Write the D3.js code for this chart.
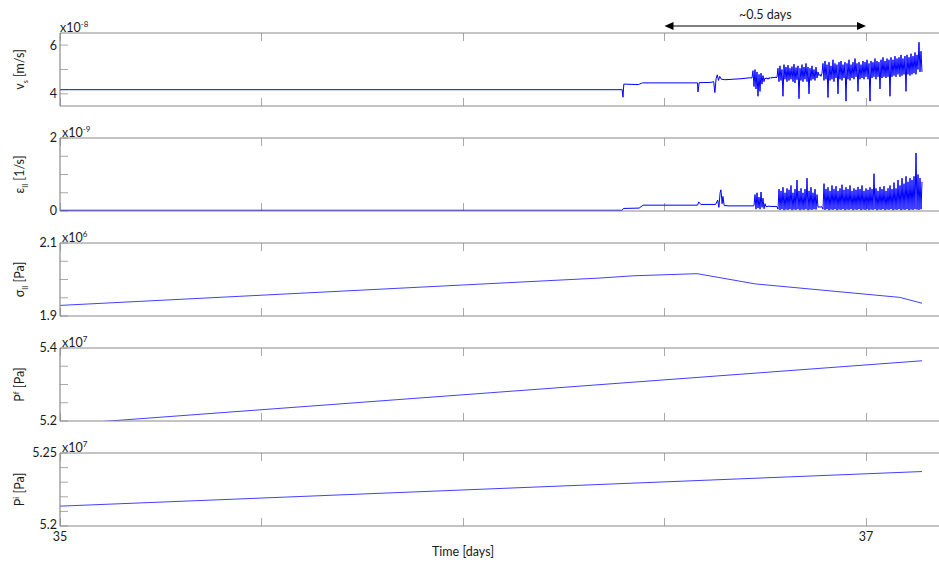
<!DOCTYPE html>
<html><head><meta charset="utf-8">
<script src="https://cdn.jsdelivr.net/npm/d3@7"></script>
<style>
body{margin:0;background:#fff}
svg text{font-family:Lato,"Open Sans",sans-serif;fill:#1a1a1a}
</style></head>
<body><svg id="c" width="939" height="563"></svg>
<script>
// ---------------- DATA ----------------
const xTicks = [35, 35.5, 36, 36.5, 37];
const xTickLabels = ["35", "", "", "", "37"];
const sampleStep = 0.0024814; // days between samples in the noisy records

// v_s (x1e-8 m/s)
const vsTime = [35.000, 36.395, 36.397, 36.399, 36.435, 36.445, 36.582, 36.583, 36.586, 36.615, 36.622, 36.625, 36.628, 36.631, 36.634, 36.637, 36.641, 36.650, 36.690, 36.712];
const vsVal  = [4.17, 4.17, 3.86, 4.40, 4.38, 4.45, 4.45, 4.08, 4.46, 4.47, 4.50, 4.05, 4.62, 4.78, 4.55, 4.72, 4.60, 4.58, 4.62, 4.66];
const vsBurstStart = 36.7171;
const vsBurst = [
 4.65,4.95,4.3,5.0,4.2,4.9,3.9,4.8,4.1,4.85,4.4,4.75,4.5,4.65,
 4.62,4.66,4.6,4.67,4.63,4.68,4.64,4.69,4.65,4.7,4.66,4.68,
 5.05,4.5,5.15,4.55,5.0,3.9,5.2,4.6,5.1,4.5,5.18,4.55,5.05,4.6,5.12,4.5,5.22,4.45,5.08,4.58,5.15,3.8,5.05,4.55,5.2,4.5,5.1,4.6,5.25,4.5,5.1,4.0,5.05,4.55,5.15,4.6,5.0,4.55,5.1,4.65,4.9,
 4.75,4.8,4.72,4.85,
 5.25,4.55,5.35,4.6,5.2,3.85,5.3,4.55,5.15,4.6,
 5.4,4.5,5.25,4.65,5.2,4.0,5.3,4.6,5.35,4.55,
 5.2,4.65,5.3,3.7,5.25,4.6,5.4,4.55,5.2,4.65,
 5.3,4.6,5.45,4.7,5.25,4.1,5.3,4.6,5.2,4.65,
 5.35,4.6,5.3,4.7,5.4,4.6,5.25,3.7,5.35,4.65,
 5.3,4.7,5.45,4.6,5.35,4.7,5.3,4.2,5.4,4.65,
 5.5,4.7,5.35,4.65,5.45,4.7,5.4,3.9,5.5,4.7,
 5.4,4.75,5.55,4.7,5.45,4.8,5.5,4.7,5.6,4.75,
 5.45,4.8,5.55,4.1,5.6,4.8,5.5,4.75,5.65,4.8,
 5.55,4.85,5.7,4.8,5.6,5.0,6.12,4.9,5.75,4.9];

// strain rate (x1e-9 1/s)
const epsTime = [35.000, 36.395, 36.398, 36.437, 36.447, 36.582, 36.585, 36.590, 36.627, 36.632, 36.635, 36.638, 36.640, 36.643, 36.645, 36.648, 36.660, 36.720];
const epsVal  = [0.02, 0.02, 0.07, 0.08, 0.16, 0.16, 0.25, 0.18, 0.18, 0.30, 0.10, 0.50, 0.58, 0.20, 0.40, 0.15, 0.14, 0.14];
const epsBurstStart = 36.7221;
const epsBurst = [
 0.15,0.45,0.05,0.5,0.08,0.38,0.05,0.52,0.1,0.35,0.06,0.2,
 0.12,0.13,0.12,0.14,0.12,0.13,0.12,0.13,0.12,0.13,0.12,0.12,
 0.05,0.6,0.03,0.55,0.05,0.65,0.02,0.5,0.04,0.62,0.03,0.58,0.05,0.7,0.02,0.5,0.04,0.6,0.03,0.85,0.05,0.55,0.02,0.62,0.04,0.5,0.03,0.6,0.05,0.9,0.02,0.55,0.04,0.65,0.03,0.5,0.05,0.6,0.04,0.45,0.1,
 0.12,0.1,0.12,0.11,
 0.05,0.75,0.03,0.6,0.05,0.65,0.02,0.55,0.04,0.7,
 0.03,0.6,0.05,0.68,0.02,0.55,0.04,0.62,0.03,0.72,
 0.05,0.58,0.02,0.65,0.04,0.6,0.03,0.7,0.05,0.55,
 0.02,0.62,0.04,0.58,0.03,0.66,0.05,0.6,0.02,0.7,
 0.04,0.55,0.03,0.62,0.05,0.58,0.02,0.65,0.04,0.6,
 0.03,1.02,0.05,0.62,0.02,0.55,0.04,0.66,0.03,0.6,
 0.05,0.68,0.02,0.55,0.04,0.62,0.03,0.7,0.05,0.6,
 0.02,0.78,0.04,0.62,0.03,0.85,0.05,0.7,0.02,0.9,
 0.04,0.75,0.03,0.95,0.05,0.8,0.02,0.9,0.04,0.85,
 0.03,0.95,0.05,1.59,0.04,1.0,0.03,0.9,0.05,0.8];

// sigma_II (x1e6 Pa)
const sigTime = [35.000, 36.340, 36.420, 36.581, 36.725, 37.084, 37.139];
const sigVal  = [1.929, 2.004, 2.010, 2.016, 1.988, 1.951, 1.935];

// P^f (x1e7 Pa)
const pfTime = [35.000, 37.139];
const pfVal  = [5.190, 5.365];

// P^i (x1e7 Pa)
const piTime = [35.000, 37.139];
const piVal  = [5.2136, 5.2373];

// axes definitions
const panelLabels = [
  {main:"v", sub:"s", sup:null, unit:" [m/s]"},
  {main:"ε", sub:"II", sup:null, unit:" [1/s]"},
  {main:"σ", sub:"II", sup:null, unit:" [Pa]"},
  {main:"P", sub:null, sup:"f", unit:" [Pa]"},
  {main:"P", sub:null, sup:"i", unit:" [Pa]"}
];
const exponents = ["-8", "-9", "6", "7", "7"];
const yDomains = [[3.5, 6.5], [0, 2], [1.9, 2.1], [5.2, 5.4], [5.2, 5.25]];
const yTicks = [[4,5,6], [0,0.5,1,1.5,2], [1.9,1.95,2,2.05,2.1], [5.2,5.25,5.3,5.35,5.4], [5.2,5.21,5.22,5.23,5.24,5.25]];
const yTickLabels = [["4","","6"], ["0","","","","2"], ["1.9","","","","2.1"], ["5.2","","","","5.4"], ["5.2","","","","","5.25"]];

// ---------------- BUILD ----------------
function withBurst(t, v, start, burst){
  const out = t.map((d,i)=>[d, v[i]]);
  burst.forEach((b,i)=>out.push([start + i*sampleStep, b]));
  return out;
}
const series = [
  withBurst(vsTime, vsVal, vsBurstStart, vsBurst),
  withBurst(epsTime, epsVal, epsBurstStart, epsBurst),
  sigTime.map((d,i)=>[d, sigVal[i]]),
  pfTime.map((d,i)=>[d, pfVal[i]]),
  piTime.map((d,i)=>[d, piVal[i]])
];
const lineWidths = [1.0, 1.0, 0.75, 0.75, 0.75];

const left = 60, right = 939;
const tops = [33, 138, 243, 348, 453];
const ph = 73;
const x = d3.scaleLinear().domain([35, 35 + (right-left)/403]).range([left, right]);
const svg = d3.select("#c");
const frameCol = "#8a8a8a", tickCol = "#a8a8a8";

tops.forEach((top, k) => {
  const bottom = top + ph;
  const y = d3.scaleLinear().domain(yDomains[k]).range([bottom, top]);
  const g = svg.append("g");
  const cid = "clip" + k;
  svg.append("clipPath").attr("id", cid).append("rect")
    .attr("x", left).attr("y", top).attr("width", right-left).attr("height", ph);

  xTicks.forEach(t => {
    const xx = Math.round(x(t)) + 0.5;
    g.append("line").attr("x1", xx).attr("x2", xx).attr("y1", top).attr("y2", top+8).attr("stroke", tickCol);
    g.append("line").attr("x1", xx).attr("x2", xx).attr("y1", bottom).attr("y2", bottom-8).attr("stroke", tickCol);
  });
  yTicks[k].forEach((t, i) => {
    const yy = y(t);
    g.append("line").attr("x1", left).attr("x2", left+8).attr("y1", yy).attr("y2", yy).attr("stroke", tickCol);
    if (yTickLabels[k][i]) {
      g.append("text").attr("x", left-3).attr("y", yy).attr("dy", k === 4 && i === 0 ? "0.2em" : "0.35em")
        .attr("text-anchor", "end").attr("font-size", 12.5).text(yTickLabels[k][i]);
    }
  });

  const line = d3.line().x(d => x(d[0])).y(d => y(d[1]));
  g.append("path").datum(series[k]).attr("clip-path", `url(#${cid})`)
    .attr("d", line).attr("fill", "none").attr("stroke", "#0000ff").attr("stroke-width", lineWidths[k]);

  g.append("line").attr("x1", left).attr("x2", right).attr("y1", top).attr("y2", top).attr("stroke", frameCol).attr("stroke-width", 1.2);
  g.append("line").attr("x1", left).attr("x2", right).attr("y1", bottom).attr("y2", bottom).attr("stroke", frameCol).attr("stroke-width", 1.2);
  g.append("line").attr("x1", left).attr("x2", left).attr("y1", top).attr("y2", bottom).attr("stroke", frameCol).attr("stroke-width", 1.2);

  const ex = g.append("text").attr("x", left + (k===0?0:2)).attr("y", top - 1).attr("font-size", 12.5);
  ex.append("tspan").text("x10");
  ex.append("tspan").attr("dy", -5).attr("font-size", 8).text(exponents[k]);

  const lab = panelLabels[k];
  const yl = g.append("text").attr("transform", `translate(24,${top + ph/2}) rotate(-90)`)
    .attr("text-anchor", "middle").attr("font-size", 12.5);
  yl.append("tspan").text(lab.main);
  if (lab.sub) yl.append("tspan").attr("dy", 4).attr("font-size", 7).text(lab.sub);
  if (lab.sup) yl.append("tspan").attr("dy", -5).attr("font-size", 8).text(lab.sup);
  yl.append("tspan").attr("dy", lab.sub ? -4 : (lab.sup ? 5 : 0)).text(lab.unit);

  if (k === tops.length - 1) {
    xTicks.forEach((t, i) => {
      if (xTickLabels[i]) g.append("text").attr("x", x(t)).attr("y", bottom + 15)
        .attr("text-anchor", "middle").attr("font-size", 12.5).text(xTickLabels[i]);
    });
    g.append("text").attr("x", x(36)).attr("y", bottom + 30).attr("text-anchor", "middle")
      .attr("font-size", 12.5).text("Time [days]");
  }
});

const ay = 26;
const ax1 = x(36.5), ax2 = x(37);
svg.append("line").attr("x1", ax1+6).attr("x2", ax2-6).attr("y1", ay).attr("y2", ay).attr("stroke", "#000").attr("stroke-width", 1.2);
svg.append("path").attr("d", `M${ax1},${ay} L${ax1+9},${ay-4} L${ax1+9},${ay+4} Z`).attr("fill", "#000");
svg.append("path").attr("d", `M${ax2},${ay} L${ax2-9},${ay-4} L${ax2-9},${ay+4} Z`).attr("fill", "#000");
svg.append("text").attr("x", (ax1+ax2)/2).attr("y", 19).attr("text-anchor", "middle").attr("font-size", 12.5).text("~0.5 days");
</script></body></html>
